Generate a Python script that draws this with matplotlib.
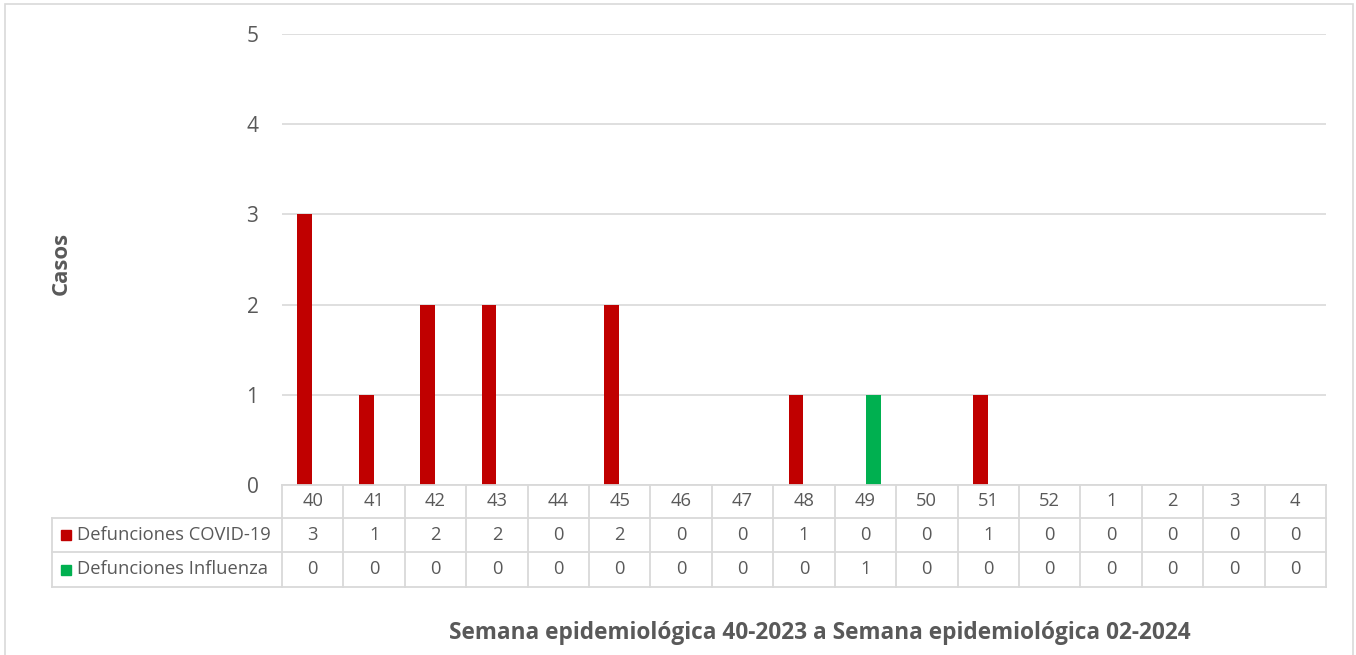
import matplotlib
matplotlib.use("Agg")
import matplotlib.pyplot as plt
from matplotlib.patches import Rectangle
from matplotlib.lines import Line2D

plt.rcParams['font.family'] = ['Open Sans', 'DejaVu Sans']

weeks = ['40', '41', '42', '43', '44', '45', '46', '47', '48', '49', '50', '51', '52', '1', '2', '3', '4']
covid = [3, 1, 2, 2, 0, 2, 0, 0, 1, 0, 0, 1, 0, 0, 0, 0, 0]
influenza = [0, 0, 0, 0, 0, 0, 0, 0, 0, 1, 0, 0, 0, 0, 0, 0, 0]
series_names = ['Defunciones COVID-19', 'Defunciones Influenza']
y_ticks = [0, 1, 2, 3, 4, 5]
y_label = 'Casos'
x_label = 'Semana epidemiológica 40-2023 a Semana epidemiológica 02-2024'

RED = '#C00000'
GREEN = '#00B050'
TXT = '#595959'
GRID = '#D9D9D9'

W, H = 1356, 655
fig = plt.figure(figsize=(W / 100, H / 100), dpi=100)

def fx(x):
    return x / W

def fy(y):
    return 1 - y / H

L, R, T, B = 282, 1326, 34, 485
ax = fig.add_axes([fx(L), fy(B), fx(R) - fx(L), fy(T) - fy(B)])

n = len(weeks)
xs = [i + 0.5 for i in range(n)]
bw = 0.24
off = 0.13
ax.bar([x - off for x in xs], covid, width=bw, color=RED, zorder=3)
ax.bar([x + off for x in xs], influenza, width=bw, color=GREEN, zorder=3)
ax.set_xlim(0, n)
ax.set_ylim(0, 5)
ax.set_yticks(y_ticks)
ax.set_yticklabels([str(v) for v in y_ticks], fontsize=15, color=TXT)
ax.tick_params(axis='y', length=0, pad=17)
ax.set_xticks([])
ax.grid(axis='y', color=GRID, linewidth=1.2, zorder=0)
for s in ax.spines.values():
    s.set_visible(False)

# Figure border
fig.patches.append(Rectangle((fx(5), fy(700)), fx(1353) - fx(5), fy(4) - fy(700),
                             transform=fig.transFigure, fill=False,
                             edgecolor='#D9D9D9', linewidth=1.2))

# Table
row_y = [485, 518, 552, 587]
left_lab = 52
cw = (R - L) / n
lw = 1.3

def hline(x0, x1, y):
    fig.add_artist(Line2D([fx(x0), fx(x1)], [fy(y), fy(y)], color=GRID, lw=lw,
                          transform=fig.transFigure))

def vline(x, y0, y1):
    fig.add_artist(Line2D([fx(x), fx(x)], [fy(y0), fy(y1)], color=GRID, lw=lw,
                          transform=fig.transFigure))

hline(L, R, row_y[0])
for y in row_y[1:]:
    hline(left_lab, R, y)
for i in range(n + 1):
    vline(L + i * cw, row_y[0], row_y[3])
vline(left_lab, row_y[1], row_y[3])

fs_tab = 13.2
for i, wk in enumerate(weeks):
    cx = L + (i + 0.5) * cw
    fig.text(fx(cx), fy((row_y[0] + row_y[1]) / 2), wk, ha='center', va='center',
             fontsize=fs_tab, color=TXT)
    fig.text(fx(cx), fy((row_y[1] + row_y[2]) / 2), str(covid[i]), ha='center',
             va='center', fontsize=fs_tab, color=TXT)
    fig.text(fx(cx), fy((row_y[2] + row_y[3]) / 2), str(influenza[i]), ha='center',
             va='center', fontsize=fs_tab, color=TXT)

for k, (name, col) in enumerate(zip(series_names, [RED, GREEN])):
    yc = (row_y[k + 1] + row_y[k + 2]) / 2
    fig.patches.append(Rectangle((fx(61), fy(yc + 5)), fx(10), 10 / H,
                                 transform=fig.transFigure, color=col))
    fig.text(fx(77), fy(yc), name, ha='left', va='center', fontsize=fs_tab, color=TXT)

fig.text(fx(61), fy(263), y_label, rotation=90, ha='center', va='center',
         fontsize=16, fontweight='bold', color=TXT)
fig.text(fx(820), fy(633), x_label, ha='center', va='center',
         fontsize=16.3, fontweight='bold', color=TXT)

fig.savefig('out.png', dpi=100)
